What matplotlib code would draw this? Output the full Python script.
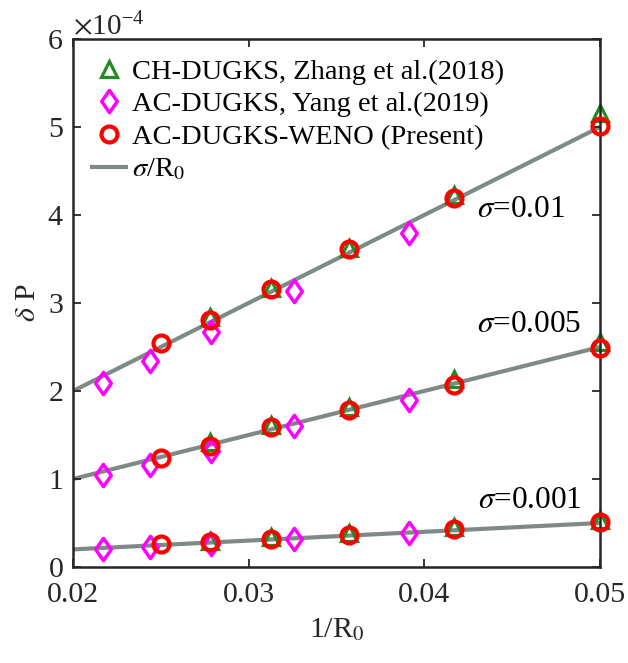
import matplotlib
matplotlib.use("Agg")
import matplotlib.pyplot as plt
import numpy as np
from matplotlib.ticker import ScalarFormatter
from matplotlib.path import Path

plt.rcParams['font.family'] = ['Liberation Serif', 'DejaVu Serif']
plt.rcParams['mathtext.fontset'] = 'stix'

sigmas = [0.01, 0.005, 0.001]
sigma_labels = [r'$\sigma$=0.01', r'$\sigma$=0.005', r'$\sigma$=0.001']

# Zhang et al. (2018), CH-DUGKS  (values in units of 1e-4)
x_zhang = [0.02778, 0.03125, 0.03571, 0.04167, 0.05]
y_zhang = {
    0.01:  [2.84, 3.17, 3.62, 4.23, 5.16],
    0.005: [1.42, 1.61, 1.82, 2.14, 2.56],
    0.001: [0.30, 0.34, 0.39, 0.45, 0.53],
}
# Yang et al. (2019), AC-DUGKS
x_yang = [0.02173, 0.02436, 0.02785, 0.03256, 0.03910]
y_yang = {
    0.01:  [2.09, 2.34, 2.67, 3.14, 3.79],
    0.005: [1.05, 1.16, 1.32, 1.60, 1.90],
    0.001: [0.21, 0.23, 0.26, 0.32, 0.39],
}
# Present, AC-DUGKS-WENO
x_present = [0.025, 0.02778, 0.03125, 0.03571, 0.04167, 0.05]
y_present = {
    0.01:  [2.54, 2.81, 3.16, 3.61, 4.19, 5.01],
    0.005: [1.24, 1.38, 1.59, 1.78, 2.07, 2.49],
    0.001: [0.26, 0.28, 0.32, 0.36, 0.43, 0.51],
}
# theory line sigma/R0 evaluated at the axis ends
x_line = np.array([0.02, 0.05])
label_pos = {0.01: (0.0430, 3.98), 0.005: (0.0430, 2.67), 0.001: (0.04305, 0.67)}

fig = plt.figure(figsize=(6.28, 6.63), dpi=100)
ax = fig.add_axes([0.1162, 0.1448, 0.8392, 0.7964])

green = '#228B22'
magenta = '#FF00FF'
red = '#FF0000'
gray = '#7F8A86'
diamond = Path([(0, 1), (0.7, 0), (0, -1), (-0.7, 0), (0, 1)],
               [Path.MOVETO, Path.LINETO, Path.LINETO, Path.LINETO, Path.CLOSEPOLY])

for i, s in enumerate(sigmas):
    ax.plot(x_line, s * x_line, color=gray, lw=3, zorder=1, solid_capstyle='butt',
            label=r'$\sigma$/R$_0$' if i == 0 else None)

for i, s in enumerate(sigmas):
    ax.plot(x_zhang, np.array(y_zhang[s]) * 1e-4, linestyle='none', marker='^', ms=12,
            mfc='none', mec=green, mew=2.3, zorder=2, clip_on=False,
            label='CH-DUGKS, Zhang et al.(2018)' if i == 0 else None)
    ax.plot(x_yang, np.array(y_yang[s]) * 1e-4, linestyle='none', marker=diamond, ms=16,
            mfc='none', mec=magenta, mew=2.5, zorder=3, clip_on=False,
            label='AC-DUGKS, Yang et al.(2019)' if i == 0 else None)
    ax.plot(x_present, np.array(y_present[s]) * 1e-4, linestyle='none', marker='o', ms=11.5,
            mfc='none', mec=red, mew=3, zorder=4, clip_on=False,
            label='AC-DUGKS-WENO (Present)' if i == 0 else None)
    lx, ly = label_pos[s]
    ax.text(lx, ly * 1e-4, sigma_labels[i], fontsize=22.5)

ax.set_xlim(0.02, 0.05)
ax.set_ylim(0, 6e-4)
ax.set_xticks([0.02, 0.03, 0.04, 0.05])
ax.set_xticklabels(['0.02', '0.03', '0.04', '0.05'])
ax.set_yticks(np.arange(0, 7) * 1e-4)
fmt = ScalarFormatter(useMathText=True)
fmt.set_powerlimits((-3, 3))
ax.yaxis.set_major_formatter(fmt)
ax.yaxis.get_offset_text().set_fontsize(21)
ax.tick_params(direction='in', top=True, right=True, labelsize=21.5, length=6, width=1.3,
               color='#262626', labelcolor='#262626')
ax.tick_params(axis='x', pad=11)
ax.tick_params(axis='y', pad=7)
for sp in ax.spines.values():
    sp.set_linewidth(1.8)
    sp.set_color('#262626')

ax.set_xlabel('1/R$_0$', fontsize=21.5, labelpad=6, color='#262626')
ax.set_ylabel(r'$\delta$ P', fontsize=21.5, labelpad=4, color='#262626')

handles, labels = ax.get_legend_handles_labels()
order = [labels.index(l) for l in ['CH-DUGKS, Zhang et al.(2018)', 'AC-DUGKS, Yang et al.(2019)',
                                   'AC-DUGKS-WENO (Present)', r'$\sigma$/R$_0$']]
ax.legend([handles[k] for k in order], [labels[k] for k in order], loc='upper left',
          bbox_to_anchor=(0.016, 0.979),
          frameon=False, fontsize=20.5, handlelength=1.33, handletextpad=0.14,
          borderaxespad=0.0, borderpad=0.3, labelspacing=0.24)

fig.savefig('out.png', dpi=100)
